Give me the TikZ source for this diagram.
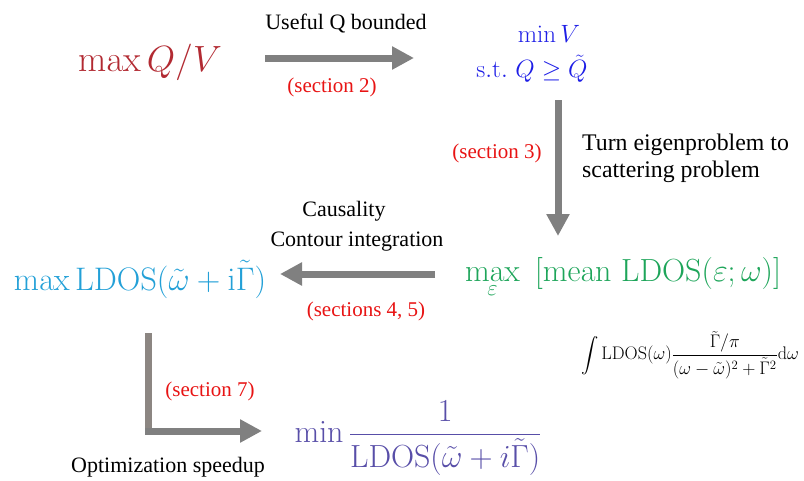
\RequirePackage{fix-cm}
\documentclass[tikz,border=0pt]{standalone}
\usepackage{amsmath}
\usepackage[no-math]{fontspec}
\newfontfamily\tnr{Liberation Serif}
\usetikzlibrary{arrows.meta}
\definecolor{qvred}{RGB}{178,42,50}
\definecolor{minblue}{RGB}{30,30,230}
\definecolor{ldosgreen}{RGB}{30,165,90}
\definecolor{ldoscyan}{RGB}{35,160,215}
\definecolor{ldospurple}{RGB}{88,78,168}
\definecolor{secred}{RGB}{232,20,20}
\definecolor{arrgray}{RGB}{128,128,128}
\definecolor{elbowgray}{RGB}{140,134,130}
\tikzset{
  lbl/.style={font=\tnr\fontsize{22}{26}\selectfont, inner sep=0pt},
  sec/.style={font=\tnr\fontsize{21}{25}\selectfont, text=secred, inner sep=0pt},
  mth/.style={inner sep=0pt},
  bigarrow/.style={line width=7pt, draw=arrgray, -{Triangle[length=22pt,width=22pt]}},
}
\begin{document}
\begin{tikzpicture}[x=1pt,y=-1pt]
\useasboundingbox (0,0) rectangle (804,480);
% formulas
\node[mth, text=qvred, font=\fontsize{36.5}{42}\selectfont] (qv) at (150,62) {$\max Q/V$};
\node[mth, text=minblue, font=\fontsize{25}{30}\selectfont] (minv) at (549,34) {$\min V$};
\node[mth, text=minblue, font=\fontsize{25}{30}\selectfont] (st) at (532,69) {$\mathrm{s.t.}\ Q\geq\tilde{Q}$};
\node[mth, text=ldosgreen, font=\fontsize{32}{38}\selectfont, anchor=base] (mean) at (623,281)
  {$\displaystyle\max_{\varepsilon}\ \,[\mathrm{mean}\ \mathrm{LDOS}(\varepsilon;\omega)]$};
\node[mth, font=\fontsize{18.2}{21}\selectfont] (integ) at (690,355)
  {$\displaystyle\int\mathrm{LDOS}(\omega)\frac{\tilde{\Gamma}/\pi}{(\omega-\tilde{\omega})^2+\tilde{\Gamma}^2}\mathrm{d}\omega$};
\node[mth, text=ldoscyan, font=\fontsize{32.6}{38}\selectfont, anchor=base] (cplx) at (140,290)
  {$\max\mathrm{LDOS}(\tilde{\omega}+\mathrm{i}\tilde{\Gamma})$};
\node[mth, text=ldospurple, font=\fontsize{32}{37}\selectfont] (inv) at (418,438)
  {$\displaystyle\min\frac{1}{\mathrm{LDOS}(\tilde{\omega}+i\tilde{\Gamma})}$};
% labels
\node[lbl] (useful) at (346,24) {Useful Q bounded};
\node[sec] (s2) at (332,87) {(section 2)};
\node[sec] (s3) at (497,153) {(section 3)};
\node[lbl, font=\tnr\fontsize{23.8}{27}\selectfont, anchor=west, align=left] (turn) at (582,158)
  {Turn eigenproblem to\\scattering problem};
\node[lbl] (caus) at (344,211) {Causality};
\node[lbl] (cont) at (357,242) {Contour integration};
\node[sec] (s45) at (366,311) {(sections 4, 5)};
\node[sec] (s7) at (210,391) {(section 7)};
\node[lbl] (speed) at (168,467) {Optimization speedup};
% arrows
\coordinate (a1s) at (265,58);
\coordinate (a1e) at (414,58);
\draw[bigarrow] (a1s) -- (a1e);
\coordinate (a2s) at (558,100);
\coordinate (a2e) at (558,236);
\draw[bigarrow] (a2s) -- (a2e);
\coordinate (a3s) at (435,274);
\coordinate (a3e) at (280,274);
\draw[bigarrow] (a3s) -- (a3e);
\coordinate (a4t) at (148.5,333);
\coordinate (a4c) at (148.5,434.5);
\coordinate (a4s) at (145,431);
\coordinate (a4e) at (262,431);
\draw[line width=7pt, draw=elbowgray] (a4t) -- (a4c);
\draw[bigarrow] (a4s) -- (a4e);
\end{tikzpicture}
\end{document}
